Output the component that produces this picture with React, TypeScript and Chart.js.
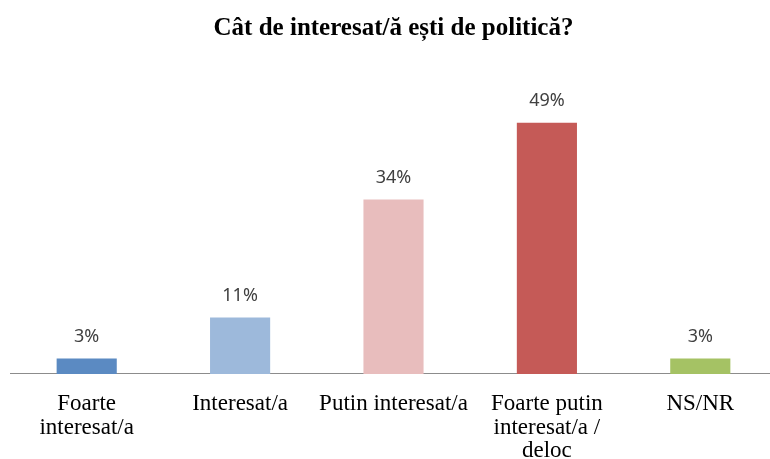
import React, { useEffect, useRef } from "react";
import { Chart, registerables } from "chart.js";

Chart.register(...registerables);

const TITLE = "Cât de interesat/ă ești de politică?";
const CATEGORIES: string[][] = [
  ["Foarte", "interesat/a"],
  ["Interesat/a"],
  ["Putin interesat/a"],
  ["Foarte putin", "interesat/a /", "deloc"],
  ["NS/NR"],
];
const VALUES = [3, 11, 34, 49, 3];
const COLORS = ["#5B8AC2", "#9DB9DB", "#E8BDBD", "#C55A57", "#A5C264"];

const valueLabels = {
  id: "valueLabels",
  afterDatasetsDraw(chart: any) {
    const ctx = chart.ctx;
    const meta = chart.getDatasetMeta(0);
    ctx.save();
    ctx.font = "18px 'Noto Sans', 'DejaVu Sans', sans-serif";
    ctx.fillStyle = "#404040";
    ctx.textAlign = "center";
    ctx.textBaseline = "alphabetic";
    meta.data.forEach((bar: any, i: number) => {
      ctx.fillText(VALUES[i] + "%", bar.x, bar.y - 17);
    });
    ctx.restore();
  },
};

export default function App() {
  const ref = useRef<HTMLCanvasElement | null>(null);
  useEffect(() => {
    document.body.style.margin = "0";
    const chart = new Chart(ref.current as HTMLCanvasElement, {
      type: "bar",
      data: {
        labels: CATEGORIES,
        datasets: [
          {
            data: VALUES,
            backgroundColor: COLORS,
            borderWidth: 0,
            barPercentage: 0.392,
            categoryPercentage: 1,
          },
        ],
      },
      options: {
        animation: false,
        responsive: false,
        maintainAspectRatio: false,
        layout: { padding: { left: 10, right: 0, top: 0, bottom: 0 } },
        plugins: {
          legend: { display: false },
          tooltip: { enabled: false },
          title: {
            display: true,
            text: TITLE,
            color: "#000000",
            font: { family: "'Liberation Serif', serif", size: 25, weight: "bold" },
            padding: { top: 14, bottom: 12 },
          },
        },
        scales: {
          x: {
            grid: { display: false, drawTicks: false },
            border: { display: true, color: "#8C8C8C", width: 1 },
            ticks: {
              color: "#000000",
              font: { family: "'Liberation Serif', serif", size: 23, lineHeight: 1.03 },
              padding: 18,
              maxRotation: 0,
              autoSkip: false,
            },
          },
          y: {
            display: false,
            min: 0,
            max: 62,
          },
        },
      },
      plugins: [valueLabels],
    });
    return () => chart.destroy();
  }, []);
  return (
    <div style={{ position: "fixed", left: 0, top: 0, width: 770, height: 459, overflow: "hidden", background: "#fff" }}>
      <canvas ref={ref} width={777} height={481} style={{ display: "block" }} />
    </div>
  );
}
